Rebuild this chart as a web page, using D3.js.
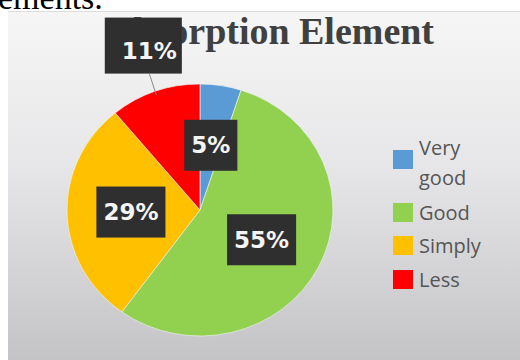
<!DOCTYPE html>
<html>
<head>
<meta charset="utf-8">
<script src="https://cdn.jsdelivr.net/npm/d3@7"></script>
<style>
  body { margin: 0; background: #fff; }
  svg { display: block; }
</style>
</head>
<body>
<div id="chart"></div>
<script>
// chart data
const categories = ["Very good", "Good", "Simply", "Less"];
const shares = [5, 55, 29, 11];
const colors = ["#5b9bd5", "#92d050", "#ffc000", "#ff0000"];
const titleText = "Absorption Element";

const width = 520, height = 360;

const svg = d3.select("#chart").append("svg")
    .attr("width", width)
    .attr("height", height);

// background gradient of the chart area
const defs = svg.append("defs");
const grad = defs.append("linearGradient")
    .attr("id", "bg")
    .attr("x1", 0).attr("y1", 0).attr("x2", 0).attr("y2", 1);
grad.append("stop").attr("offset", "0%").attr("stop-color", "#f6f6f6");
grad.append("stop").attr("offset", "45%").attr("stop-color", "#e6e6e8");
grad.append("stop").attr("offset", "100%").attr("stop-color", "#c4c4c6");

// leftover text of the page behind the chart
svg.append("text")
    .attr("x", -2)
    .attr("y", 9)
    .style("font-family", "Liberation Serif, serif")
    .style("font-size", "34px")
    .attr("fill", "#000")
    .text("ements.");

svg.append("rect")
    .attr("x", 8).attr("y", 11)
    .attr("width", width - 8).attr("height", height - 11)
    .attr("fill", "url(#bg)");
svg.append("line")
    .attr("x1", 8).attr("x2", width)
    .attr("y1", 11.5).attr("y2", 11.5)
    .attr("stroke", "#dcdcdc");

// title
svg.append("text")
    .attr("x", 106)
    .attr("y", 44)
    .attr("textLength", 328)
    .attr("lengthAdjust", "spacingAndGlyphs")
    .style("font-family", "Liberation Serif, serif")
    .style("font-weight", "bold")
    .style("font-size", "37px")
    .attr("fill", "#404040")
    .text(titleText);

// pie
const cx = 200, cy = 210, r = 126, sx = 1.055;
const pie = d3.pie().sort(null).value(d => d);
const arcs = pie(shares);
const arc = d3.arc().innerRadius(0).outerRadius(r);
const labelArc = d3.arc().innerRadius(r * 0.52).outerRadius(r * 0.52);
const outArc = d3.arc().innerRadius(r * 1.37).outerRadius(r * 1.37);
const edgeArc = d3.arc().innerRadius(r * 0.97).outerRadius(r * 0.97);

const g = svg.append("g")
    .attr("transform", "translate(" + cx + "," + cy + ") scale(" + sx + ",1)");

g.selectAll(".slice")
    .data(arcs)
    .enter()
    .append("path")
    .attr("class", "slice")
    .attr("d", arc)
    .attr("fill", (d, i) => colors[i])
    .attr("stroke", "#f2f2f2")
    .attr("stroke-width", 0.6);

// data labels (the small slice label sits outside with a leader line)
const labels = svg.append("g")
    .attr("transform", "translate(" + cx + "," + cy + ")");

arcs.forEach(function (d, i) {
    const outside = i === 3;
    const c = outside ? outArc.centroid(d) : labelArc.centroid(d);
    const px = c[0] * sx + (outside ? 5 : 0), py = c[1] + (outside ? -2 : 0);
    if (outside) {
        const e = edgeArc.centroid(d);
        labels.append("line")
            .attr("x1", px + 6).attr("y1", py + 28)
            .attr("x2", e[0] * sx).attr("y2", e[1])
            .attr("stroke", "#8a8a8a")
            .attr("stroke-width", 1);
    }
    const t = labels.append("text")
        .attr("x", px + (outside ? 6 : 0))
        .attr("y", py + (outside ? 5 : 0))
        .attr("text-anchor", "middle")
        .attr("dominant-baseline", "central")
        .style("font-family", "DejaVu Sans, sans-serif")
        .style("font-weight", "bold")
        .style("font-size", "23px")
        .attr("fill", "#f4f4f4")
        .text(shares[i] + "%");
    const w = t.node().getComputedTextLength();
    const bw = outside ? w + 22 : w + 14;
    const bh = outside ? 56 : 51;
    labels.insert("rect", "text")
        .attr("x", px - bw / 2)
        .attr("y", py - bh / 2)
        .attr("width", bw)
        .attr("height", bh)
        .attr("fill", "#2f2f2f");
});

// legend
const legendRows = [["Very", "good"], ["Good"], ["Simply"], ["Less"]];
const legendY = [150, 203, 236, 270];
const legend = svg.append("g");
legendRows.forEach(function (lines, i) {
    legend.append("rect")
        .attr("x", 393)
        .attr("y", legendY[i])
        .attr("width", 20)
        .attr("height", 19)
        .attr("fill", colors[i]);
    const baseY = lines.length > 1 ? legendY[i] + 5 : legendY[i] + 17;
    lines.forEach(function (s, k) {
        legend.append("text")
            .attr("x", 419)
            .attr("y", baseY + k * 30)
            .style("font-family", "Open Sans, sans-serif")
            .style("font-size", "20px")
            .attr("fill", "#555")
            .text(s);
    });
});
</script>
</body>
</html>
